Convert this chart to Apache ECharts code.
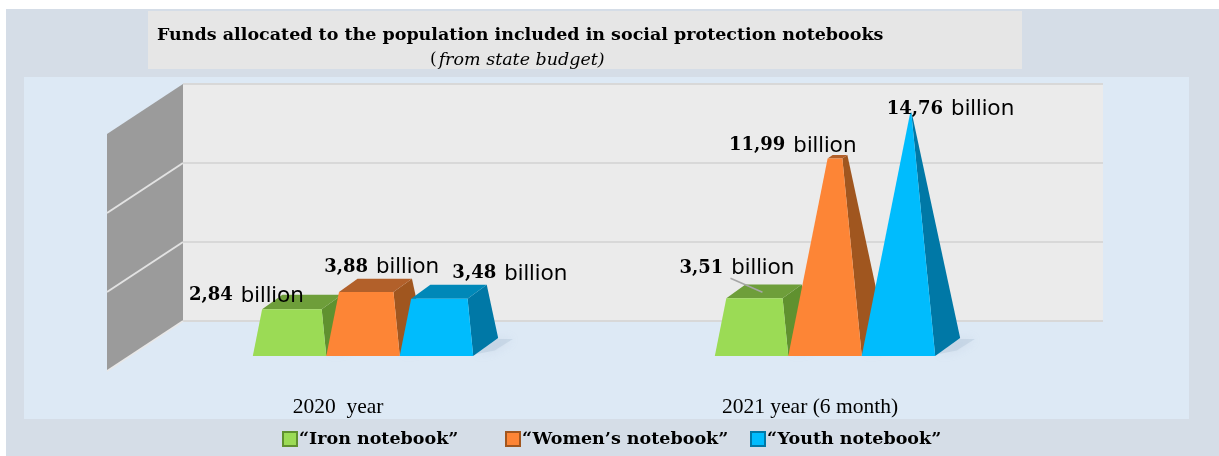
<!DOCTYPE html>
<html><head><meta charset="utf-8">
<script src="https://cdn.jsdelivr.net/npm/echarts@6/dist/echarts.min.js"></script>
<style>html,body{margin:0;padding:0;background:#fff;} #c{width:1219px;height:456px;}</style>
</head><body><div id="c"></div>
<script>
// ---- data ----
const categories = ['2020  year', '2021 year (6 month)'];
const seriesNames = ['“Iron notebook”', '“Women’s notebook”', '“Youth notebook”'];
const ironValues = [2.84, 3.51];
const womenValues = [3.88, 11.99];
const youthValues = [3.48, 14.76];
const yTicks = [0, 5, 10, 15];
const unitText = 'billion';

// ---- styling / layout config ----
const Y_MAX = 15;
const COLORS = [
  {front: '#9bdb55', top: '#6e9e3a', side: '#60912f'},
  {front: '#fd8536', top: '#b2602a', side: '#a0561f'},
  {front: '#00bcfd', top: '#0088b8', side: '#0078a6'}
];
// label offsets relative to front-top edge centre of each bar [series][category]
const LABEL_OFFSETS = [
  [[-103, -16], [-75, -32]],
  [[-42, -27], [-106, -15]],
  [[13, -27], [-24, -6]]
];
const LEADERS = [[null, [-24, -20, 8, -6]], [null, null], [null, null]];
const CAT_LABEL_SHIFT = [50, 30];

const seriesValues = [ironValues, womenValues, youthValues];
const fmt = v => v.toFixed(2).replace('.', ',');

function makeRender(si) {
  return function (params, api) {
    const c = api.value(0), v = api.value(1);
    const base = api.coord([c, 0]);
    const band = api.size([1, 0])[0];
    const W = band * 0.159, DX = W * 0.34, DY = W * 0.245;
    const x0 = base[0] + (si - 1) * W;
    const k = base[1] - api.coord([c, 1])[1];
    const r = 1 - v / Y_MAX;
    const P = (x, yv, z) => [x + z * DX, base[1] - yv * k - z * DY];
    const xl = x0 - W / 2 * r, xr = x0 + W / 2 * r;
    const zf = 0.5 - 0.5 * r, zb = 0.5 + 0.5 * r;
    const col = COLORS[si];
    const children = [];
    // soft floor shadow
    children.push({type: 'polygon', shape: {points: [P(x0 + W / 2, 0, 0.1), P(x0 + W / 2 + 14, 0, 0.3), P(x0 + W / 2 + 16, 0, 0.95), P(x0 + W / 2, 0, 0.95)]},
      style: {fill: 'rgba(170,188,210,0.35)', shadowBlur: 10, shadowColor: 'rgba(160,180,205,0.6)'}, z2: 0});
    children.push({type: 'polygon', shape: {points: [P(x0 + W / 2, 0, 0), P(x0 + W / 2, 0, 1), P(xr, v, zb), P(xr, v, zf)]}, style: {fill: col.side}, z2: 1});
    children.push({type: 'polygon', shape: {points: [P(xl, v, zf), P(xr, v, zf), P(xr, v, zb), P(xl, v, zb)]}, style: {fill: col.top}, z2: 1});
    children.push({type: 'polygon', shape: {points: [P(x0 - W / 2, 0, 0), P(x0 + W / 2, 0, 0), P(xr, v, zf), P(xl, v, zf)]}, style: {fill: col.front}, z2: 2});
    const anchor = P(x0, v, zf);
    const off = LABEL_OFFSETS[si][c];
    const ld = LEADERS[si][c];
    if (ld) {
      children.push({type: 'line', shape: {x1: anchor[0] + ld[0], y1: anchor[1] + ld[1], x2: anchor[0] + ld[2], y2: anchor[1] + ld[3]},
        style: {stroke: '#a6a6a6', lineWidth: 1.5}, z2: 5});
    }
    children.push({type: 'text', x: anchor[0] + off[0], y: anchor[1] + off[1], z2: 6,
      style: {text: '{n|' + fmt(v) + '}{u|' + unitText + '}', align: 'left', verticalAlign: 'middle',
        rich: {
          n: {fontFamily: 'DejaVu Serif', fontWeight: 'bold', fontSize: 18, fill: '#000', color: '#000', verticalAlign: 'bottom', lineHeight: 26, padding: [0, 0, 2, 0]},
          u: {fontFamily: 'Noto Sans', fontSize: 22, fill: '#000', color: '#000', verticalAlign: 'bottom', lineHeight: 26, padding: [0, 0, 0, 8]}
        }}});
    return {type: 'group', children: children};
  };
}

function renderWall(params, api) {
  const DXW = -76, DYW = 50;
  const b = api.coord([0, yTicks[0]]);
  const t = api.coord([0, yTicks[yTicks.length - 1]]);
  const children = [{type: 'polygon', shape: {points: [[t[0], t[1]], [b[0], b[1]], [b[0] + DXW, b[1] + DYW], [t[0] + DXW, t[1] + DYW]]},
    style: {fill: '#9b9b9b'}}];
  yTicks.slice(1, -1).forEach(tk => {
    const p = api.coord([0, tk]);
    children.push({type: 'line', shape: {x1: p[0], y1: p[1], x2: p[0] + DXW, y2: p[1] + DYW}, style: {stroke: '#e2e2e2', lineWidth: 2}});
  });
  children.push({type: 'line', shape: {x1: b[0], y1: b[1], x2: b[0] + DXW, y2: b[1] + DYW}, style: {stroke: '#e8e8e8', lineWidth: 1.5}});
  return {type: 'group', children: children};
}

const chart = echarts.init(document.getElementById('c'), null, {renderer: 'canvas'});
const legendLefts = [282, 505, 750];

const option = {
  animation: false,
  backgroundColor: '#ffffff',
  graphic: [
    {type: 'rect', z: -10, shape: {x: 6, y: 9, width: 1213, height: 447}, style: {fill: '#d5dde7'}},
    {type: 'rect', z: -10, shape: {x: 148, y: 11, width: 874, height: 58}, style: {fill: '#e6e6e6'}},
    {type: 'rect', z: -10, shape: {x: 24, y: 77, width: 1165, height: 342}, style: {fill: '#dde9f5'}}
  ],
  title: [
    {text: 'Funds allocated to the population included in social protection notebooks', left: 152, top: 21,
      textStyle: {fontFamily: 'DejaVu Serif', fontWeight: 'bold', fontSize: 17.5, color: '#000'}},
    {text: '{r|(}{i|from state budget)}', left: 425, top: 46,
      textStyle: {fontWeight: 'normal', rich: {
        r: {fontFamily: 'DejaVu Serif', fontWeight: 'normal', fontSize: 17, color: '#000'},
        i: {fontFamily: 'DejaVu Serif', fontStyle: 'italic', fontWeight: 'normal', fontSize: 17.5, color: '#000', padding: [0, 0, 0, 2]}}}}
  ],
  legend: seriesNames.map((n, i) => ({
    data: [n], left: legendLefts[i], top: 430, padding: 0, icon: 'rect', itemWidth: 14, itemHeight: 14, itemGap: 0,
    textStyle: {fontFamily: 'DejaVu Serif', fontWeight: 'bold', fontSize: 17.5, color: '#000', padding: [0, 0, 0, -3]},
    selectedMode: false
  })),
  grid: [
    {left: 132, width: 924, top: 118, bottom: 100, show: false},
    {left: 183, width: 920, top: 84, height: 237, show: true, backgroundColor: '#ebebeb', borderWidth: 0, z: 0}
  ],
  xAxis: [
    {type: 'category', gridIndex: 0, data: categories, axisLine: {show: false}, axisTick: {show: false},
      axisLabel: {margin: 40, formatter: (val, idx) => '{c' + idx + '|' + val + '}',
        rich: {
          c0: {fontFamily: 'Liberation Serif', fontSize: 21.5, color: '#000', padding: [0, CAT_LABEL_SHIFT[0], 0, 0]},
          c1: {fontFamily: 'Liberation Serif', fontSize: 21.5, color: '#000', padding: [0, CAT_LABEL_SHIFT[1], 0, 0]}
        }}},
    {type: 'value', gridIndex: 1, min: 0, max: 1, show: false}
  ],
  yAxis: [
    {type: 'value', gridIndex: 0, min: 0, max: Y_MAX, show: false},
    {type: 'value', gridIndex: 1, min: 0, max: Y_MAX, interval: 5, axisLabel: {show: false}, axisLine: {show: false}, axisTick: {show: false},
      splitLine: {show: true, lineStyle: {color: '#d8d8d8', width: 2}}}
  ],
  series: [
    {type: 'custom', name: 'wall', xAxisIndex: 1, yAxisIndex: 1, data: [[0, 0]], renderItem: renderWall, silent: true, z: 1}
  ].concat(seriesNames.map((n, si) => ({
    type: 'custom', name: n, xAxisIndex: 0, yAxisIndex: 0, z: 3 + si,
    itemStyle: {color: COLORS[si].front, borderColor: COLORS[si].side, borderWidth: 1},
    renderItem: makeRender(si),
    data: seriesValues[si].map((v, ci) => [ci, v])
  })))
};
chart.setOption(option);
</script>
</body></html>
